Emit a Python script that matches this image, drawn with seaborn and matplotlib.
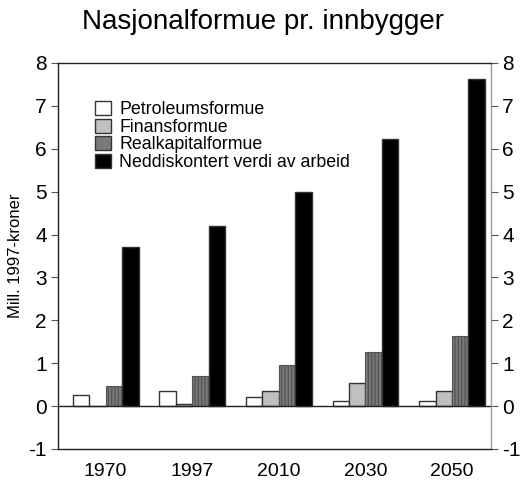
import matplotlib
matplotlib.use("Agg")
import matplotlib.pyplot as plt
import seaborn as sns
import pandas as pd

years = ["1970", "1997", "2010", "2030", "2050"]
series = ["Petroleumsformue", "Finansformue", "Realkapitalformue", "Neddiskontert verdi av arbeid"]
petroleum = [0.27, 0.36, 0.22, 0.11, 0.11]
finans = [0.0, 0.05, 0.36, 0.53, 0.36]
realkapital = [0.48, 0.70, 0.95, 1.27, 1.63]
arbeid = [3.70, 4.20, 5.00, 6.22, 7.63]
yticks = [-1, 0, 1, 2, 3, 4, 5, 6, 7, 8]

values = [petroleum, finans, realkapital, arbeid]
rows = []
for s, vals in zip(series, values):
    for y, v in zip(years, vals):
        rows.append({"year": y, "series": s, "value": v})
df = pd.DataFrame(rows)

sns.set_theme(style="white")
plt.rcParams['font.family'] = ['Liberation Sans', 'DejaVu Sans']
plt.rcParams.update({"text.color": "black", "axes.labelcolor": "black",
                     "xtick.labelcolor": "black", "ytick.labelcolor": "black"})

colors = ["#ffffff", "#c0c0c0", "#7a7a7a", "#000000"]
fig = plt.figure(figsize=(5.27, 4.91), dpi=100)
ax = fig.add_axes([58/527, 1 - 449/491, 433/527, (449-63)/491])

sns.barplot(data=df, x="year", y="value", hue="series", hue_order=series,
            palette=colors, width=0.76, ax=ax, edgecolor="#333333", linewidth=1.0,
            saturation=1)
for patch in ax.containers[2]:
    patch.set_hatch("|||||")
    patch.set_edgecolor("#555555")
    patch.set_linewidth(0.8)

ax.set_ylim(-1, 8)
ax.set_xlim(-0.55, 4.45)
ax.set_yticks(yticks)
ax.set_yticklabels([str(t) for t in yticks], fontsize=15)
ax.tick_params(axis="y", which="both", direction="out", length=5, width=0.8,
               left=True, right=True, labelleft=True, labelright=True, color="#555555", pad=3)
ax.tick_params(axis="x", length=0, labelsize=14, pad=10)
ax.set_xlabel("")
ax.set_ylabel("Mill. 1997-kroner", fontsize=12)
ax.yaxis.set_label_coords(-35/433, 0.5)
for side, sp in ax.spines.items():
    sp.set_visible(True)
    sp.set_color("#222222")
    sp.set_linewidth(1.0)
ax.spines["right"].set_color("#999999")
ax.axhline(0, color="#222222", linewidth=1.0)

leg = ax.legend(loc="upper left", bbox_to_anchor=(0.07, 0.92), frameon=False, fontsize=12.8,
                handlelength=0.85, handleheight=0.85, handletextpad=0.5, labelspacing=0.02,
                borderaxespad=0)
fig.text(0.5, 0.955, "Nasjonalformue pr. innbygger", ha="center", va="center", fontsize=20)

fig.savefig("out.png", dpi=100)
